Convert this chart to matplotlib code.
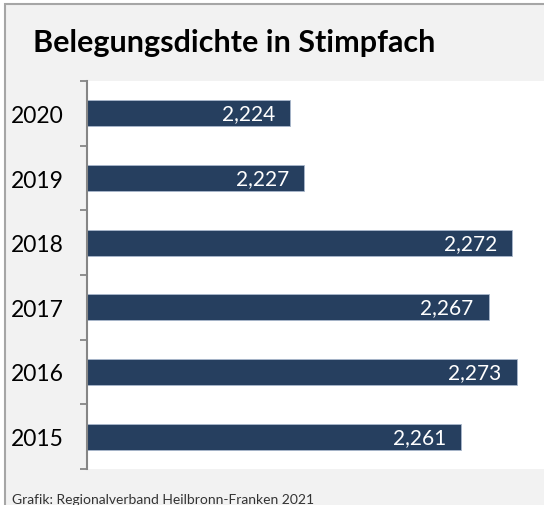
import matplotlib.pyplot as plt
from matplotlib.patches import Rectangle

years = ["2015", "2016", "2017", "2018", "2019", "2020"]
values = [2.261, 2.273, 2.267, 2.272, 2.227, 2.224]

plt.rcParams['font.family'] = ['Lato', 'DejaVu Sans']

W, H = 544, 506
fig = plt.figure(figsize=(W / 100, H / 100), dpi=100)

# grey chart frame, cut off at right and bottom like in the original
fig.patches.append(Rectangle((5 / W, -0.1), 1.2, (H - 5) / H + 0.1,
                             transform=fig.transFigure, facecolor='#f2f2f2',
                             edgecolor='#a6a6a6', linewidth=1.5, zorder=-5))

# plot area: x 87..549 px, y 82..470 px
ax = fig.add_axes([87 / W, (H - 470) / H, (549 - 87) / W, (470 - 82) / H])
ax.set_facecolor('white')
ax.set_zorder(2)

pos = list(range(len(years)))
ax.barh(pos, values, height=0.4, left=0, color='#263f5f',
        edgecolor='#a9b8cc', linewidth=0.6)
ax.set_xlim(2.18, 2.28)
ax.set_ylim(-0.5, len(years) - 0.5)

for p, v in zip(pos, values):
    ax.annotate(f"{v:.3f}".replace('.', ','), xy=(v, p), xytext=(-11, 0),
                textcoords='offset points', ha='right', va='center',
                color='white', fontsize=15)

ax.set_yticks(pos)
ax.set_yticklabels(years, fontsize=16.5, ha='left')
ax.tick_params(axis='y', which='major', length=0, pad=54.5)
ax.set_yticks([p - 0.5 for p in pos] + [len(years) - 0.5], minor=True)
ax.tick_params(axis='y', which='minor', length=5, width=1.3, color='#868686')
ax.set_xticks([])

for s in ['top', 'right', 'bottom']:
    ax.spines[s].set_visible(False)
ax.spines['left'].set_color('#868686')
ax.spines['left'].set_linewidth(1.5)

fig.text(33 / W, 1 - 52 / H, "Belegungsdichte in Stimpfach", fontsize=22,
         fontweight='bold', ha='left', va='baseline')
fig.text(12 / W, 1 - 504 / H, "Grafik: Regionalverband Heilbronn-Franken 2021",
         fontsize=10, color='#333333', ha='left', va='baseline')

fig.savefig('out.png', dpi=100)
